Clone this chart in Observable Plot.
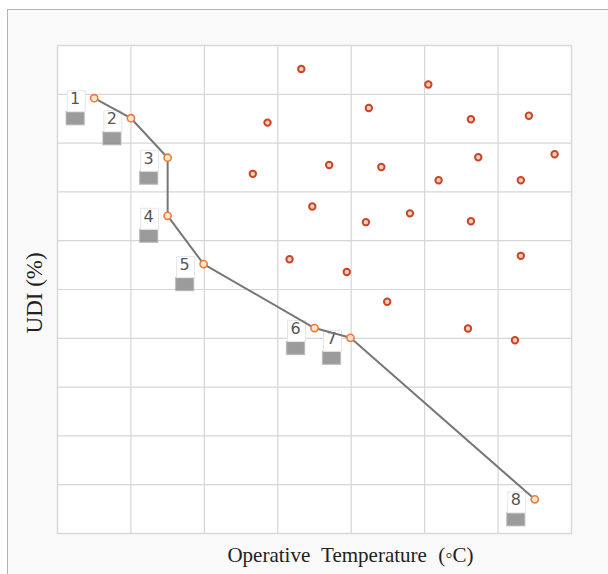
<!DOCTYPE html>
<html>
<head>
<meta charset="utf-8">
<script src="https://cdn.jsdelivr.net/npm/d3@7"></script>
<script src="https://cdn.jsdelivr.net/npm/@observablehq/plot@0.6"></script>
<style>
  html, body { margin: 0; padding: 0; width: 608px; height: 574px; overflow: hidden; background: #ffffff; }
  #box { position: absolute; left: 7px; top: 9px; width: 640px; height: 620px; border: 1px solid #b4b4b4; background: #f9f9f9; }
  #chart { position: absolute; left: 0; top: 0; }
  #chart g[aria-description="xlabel"] text { word-spacing: 6px; }
</style>
</head>
<body>
<div id="box"></div>
<div id="chart"></div>
<script>
// Pareto front points (grid units: x in columns 0..7, y in rows 0..10)
const frontIds  = [1, 2, 3, 4, 5, 6, 7, 8];
const frontTemp = [0.50, 1.00, 1.50, 1.50, 1.99, 3.50, 3.99, 6.50];
const frontUDI  = [8.92, 8.51, 7.70, 6.51, 5.52, 4.21, 4.01, 0.70];

// Other (dominated) solutions
const otherTemp = [3.32, 5.05, 4.24, 2.86, 5.63, 6.42, 5.73, 6.77, 2.66, 3.70, 4.41, 5.19, 6.31, 3.47, 4.80, 4.20, 5.63, 3.16, 3.94, 6.31, 4.49, 5.59, 6.23];
const otherUDI  = [9.52, 9.20, 8.72, 8.42, 8.49, 8.56, 7.71, 7.77, 7.37, 7.55, 7.51, 7.24, 7.24, 6.70, 6.56, 6.38, 6.40, 5.62, 5.36, 5.69, 4.75, 4.20, 3.96];

const xLabel = "Operative Temperature (◦C)";
const yLabel = "UDI (%)";

const front = frontIds.map((id, i) => ({id, t: frontTemp[i], u: frontUDI[i]}));
const others = otherTemp.map((t, i) => ({t, u: otherUDI[i]}));

const rectSymbol = (w, h) => ({
  draw(ctx) {
    ctx.moveTo(-w / 2, -h / 2);
    ctx.lineTo(w / 2, -h / 2);
    ctx.lineTo(w / 2, h / 2);
    ctx.lineTo(-w / 2, h / 2);
    ctx.closePath();
  }
});

const chart = Plot.plot({
  width: 608,
  height: 574,
  marginLeft: 57,
  marginTop: 45,
  marginRight: 37,
  marginBottom: 41,
  style: {background: "transparent"},
  x: {domain: [0, 7], axis: null},
  y: {domain: [0, 10], axis: null},
  marks: [
    Plot.frame({fill: "#ffffff", stroke: "#d9d9d9", strokeWidth: 1.5}),
    Plot.gridX(d3.range(1, 7), {stroke: "#d6d6d6", strokeOpacity: 1, strokeWidth: 1.2}),
    Plot.gridY(d3.range(1, 10), {stroke: "#d6d6d6", strokeOpacity: 1, strokeWidth: 1.2}),
    // label boxes with shadow
    Plot.dot(front, {x: "t", y: "u", symbol: rectSymbol(18, 13), fill: "#8a8a8a", fillOpacity: 0.85, stroke: "#b0b0b0", strokeWidth: 1.5, strokeOpacity: 0.6, dx: -19, dy: 20}),
    Plot.dot(front, {x: "t", y: "u", symbol: rectSymbol(18, 21), fill: "#ffffff", stroke: "#e6e6e6", strokeWidth: 1, dx: -18, dy: 3}),
    Plot.text(front, {x: "t", y: "u", text: "id", dx: -19, dy: 1, fill: "#555555", fontSize: 16, fontFamily: "DejaVu Sans"}),
    Plot.line(front, {x: "t", y: "u", stroke: "#777777", strokeWidth: 2}),
    Plot.dot(front, {x: "t", y: "u", r: 3.6, fill: "#fde6cc", stroke: "#ee7a3c", strokeWidth: 1.6}),
    Plot.dot(others, {x: "t", y: "u", r: 3.2, fill: "#f6cfb4", stroke: "#c8452a", strokeWidth: 2}),
    Plot.text([xLabel], {frameAnchor: "bottom", dx: 36, dy: 28, fontSize: 21, fontFamily: "Liberation Serif", fill: "#222222", ariaDescription: "xlabel"}),
    Plot.text([yLabel], {x: () => 0, y: () => 4.93, dx: -23, rotate: -90, fontSize: 23, fontFamily: "Liberation Serif", fill: "#222222"})
  ]
});
document.getElementById("chart").appendChild(chart);
</script>
</body>
</html>
